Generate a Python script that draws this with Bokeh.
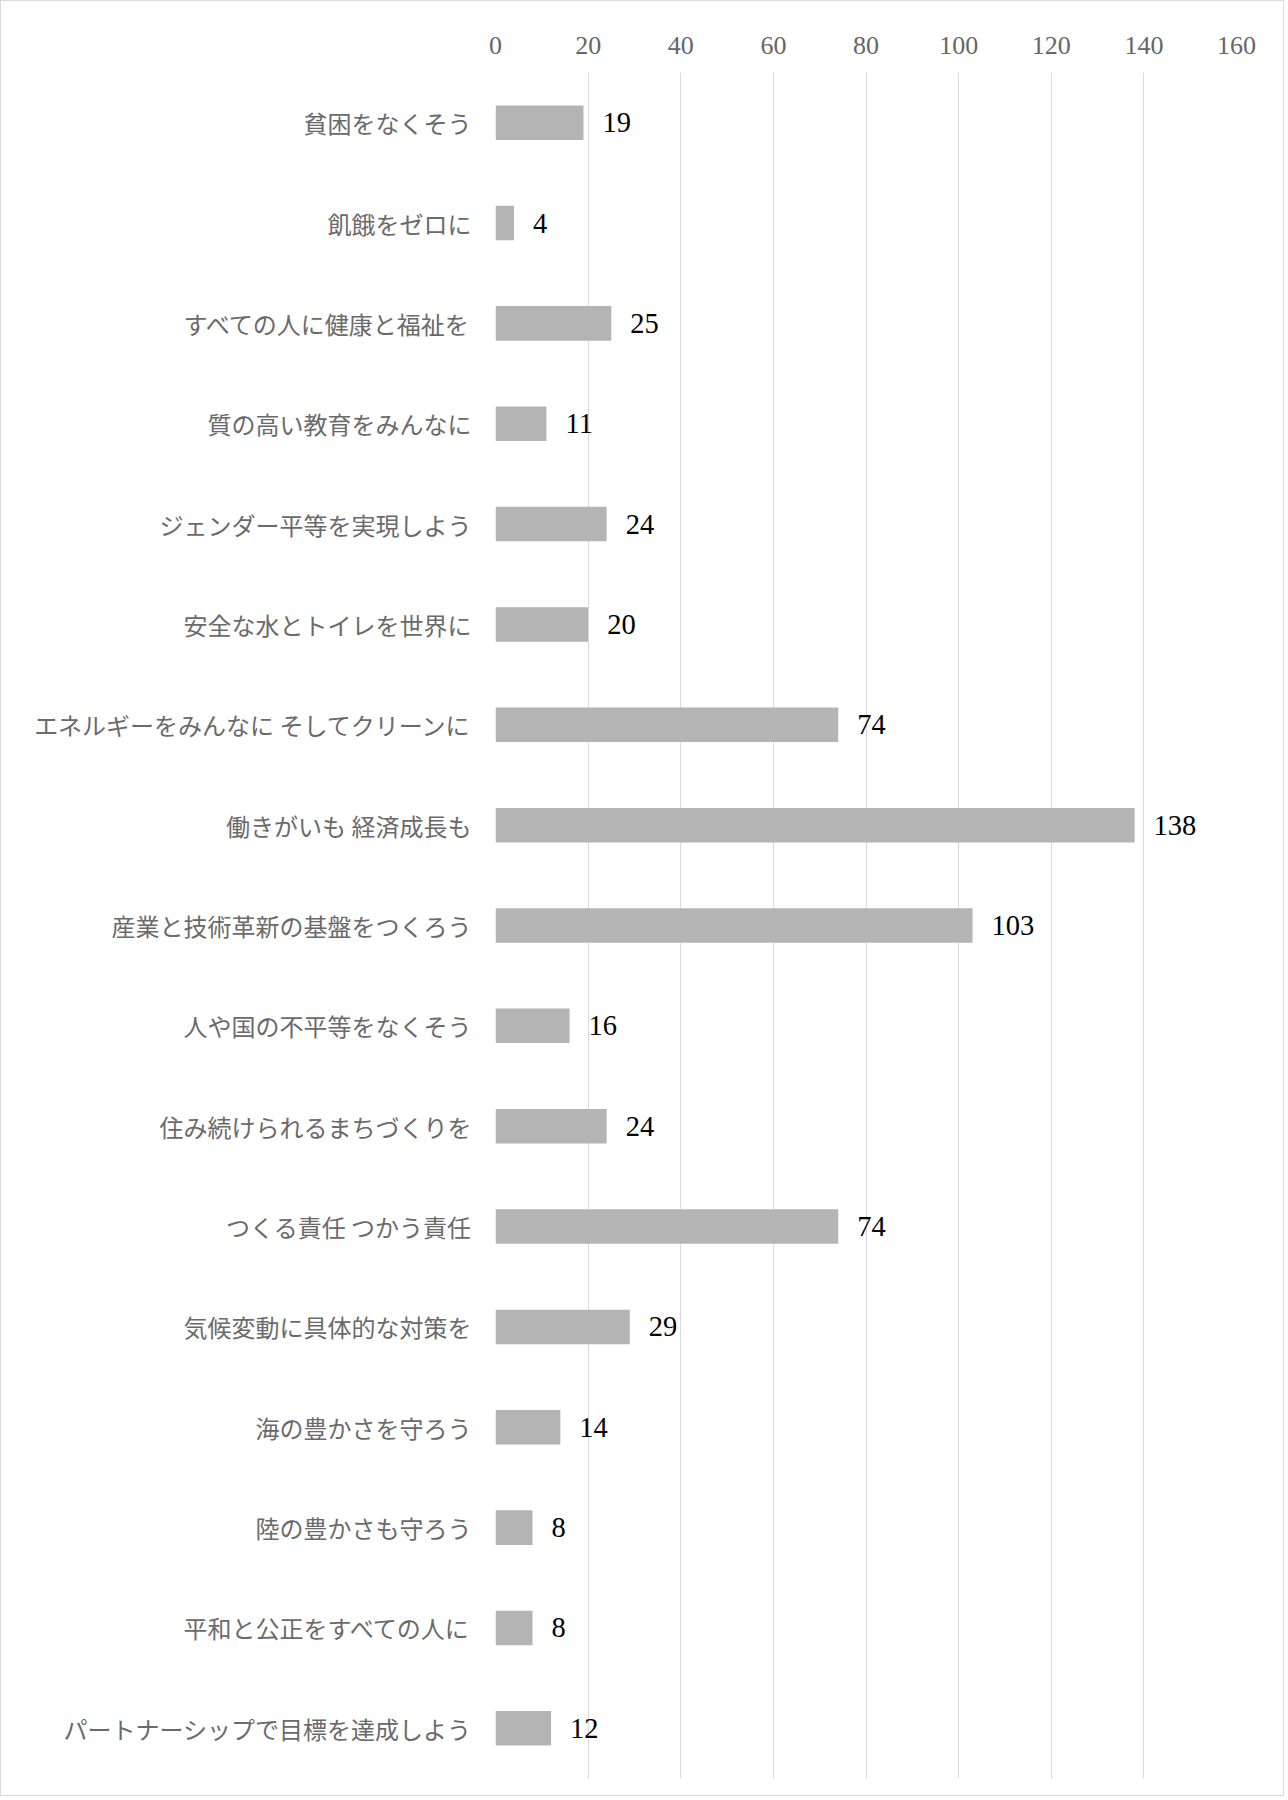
from bokeh.plotting import figure
from bokeh.models import Range1d, FactorRange, FixedTicker, ColumnDataSource, LabelSet
from bokeh.embed import file_html
from bokeh.resources import INLINE

categories = [
    "貧困をなくそう",
    "飢餓をゼロに",
    "すべての人に健康と福祉を",
    "質の高い教育をみんなに",
    "ジェンダー平等を実現しよう",
    "安全な水とトイレを世界に",
    "エネルギーをみんなに そしてクリーンに",
    "働きがいも 経済成長も",
    "産業と技術革新の基盤をつくろう",
    "人や国の不平等をなくそう",
    "住み続けられるまちづくりを",
    "つくる責任 つかう責任",
    "気候変動に具体的な対策を",
    "海の豊かさを守ろう",
    "陸の豊かさも守ろう",
    "平和と公正をすべての人に",
    "パートナーシップで目標を達成しよう",
]
values = [19, 4, 25, 11, 24, 20, 74, 138, 103, 16, 24, 74, 29, 14, 8, 8, 12]
x_ticks = [0, 20, 40, 60, 80, 100, 120, 140, 160]

source = ColumnDataSource(dict(cat=categories, val=values, lab=[str(v) for v in values]))

p = figure(
    width=1284, height=1796,
    min_border_left=494, min_border_right=49, min_border_top=71, min_border_bottom=19,
    x_range=Range1d(0, 160),
    y_range=FactorRange(factors=list(reversed(categories)), range_padding=0),
    x_axis_location="above",
    output_backend="svg", toolbar_location=None,
)
p.styles = {"border": "1px solid #d9d9d9"}
p.outline_line_color = None

p.hbar(y="cat", left=0, right="val", height=0.344, source=source,
       fill_color="#b4b4b4", line_color=None)

labels = LabelSet(x="val", y="cat", text="lab", source=source,
                  x_offset=19, text_align="left", text_baseline="middle",
                  text_font_size="28.5px", text_color="#000000",
                  text_font="Liberation Serif")
p.add_layout(labels)

xa = p.xaxis[0]
xa.ticker = FixedTicker(ticks=x_ticks)
xa.axis_line_color = None
xa.major_tick_line_color = None
xa.minor_tick_line_color = None
xa.major_label_text_font = "Liberation Serif"
xa.major_label_text_font_size = "26px"
xa.major_label_text_color = "#666666"
xa.major_label_standoff = 13

ya = p.yaxis[0]
ya.axis_line_color = None
ya.major_tick_line_color = None
ya.minor_tick_line_color = None
ya.major_label_text_font = "Noto Sans CJK JP"
ya.major_label_text_font_size = "24px"
ya.major_label_text_color = "#6a6a6a"
ya.major_label_standoff = 18

p.xgrid.grid_line_color = "#d9d9d9"
p.xgrid.grid_line_width = 1
p.ygrid.grid_line_color = None

open("out.html", "w").write(file_html(p, INLINE))
